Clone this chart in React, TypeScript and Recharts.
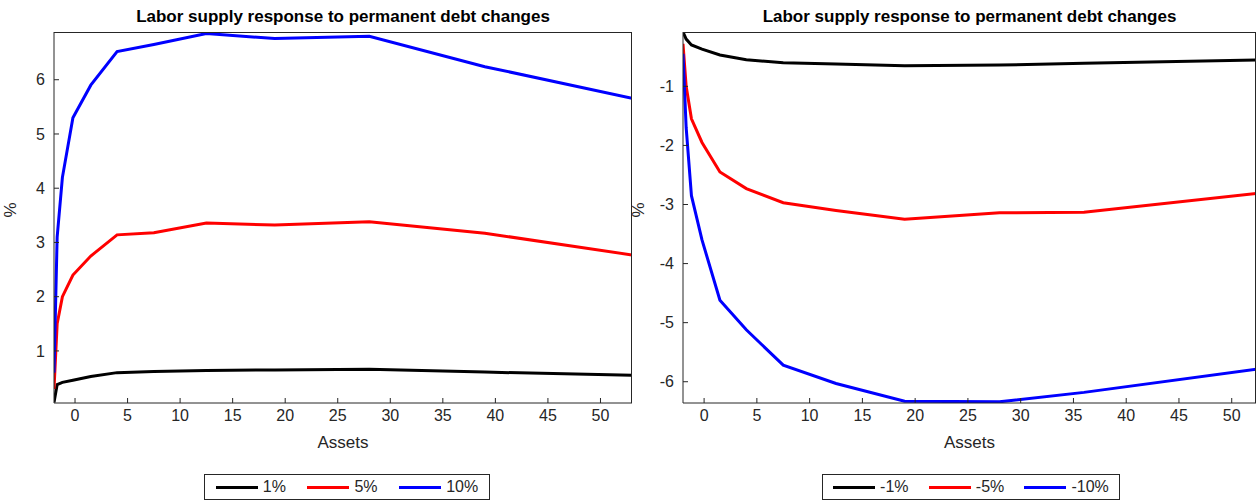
import React from 'react';
import { LineChart, Line, XAxis, YAxis } from 'recharts';

const assets = [-2, -1.7, -1.2, -0.2, 1.5, 4, 7.5, 12.5, 19, 28, 39, 53];
const assetsNeg = [-2, -1.7, -1.2, -0.2, 1.5, 4, 7.5, 12.5, 19, 28, 36, 53];
const up1 = [0.05, 0.38, 0.42, 0.46, 0.53, 0.6, 0.62, 0.64, 0.65, 0.66, 0.61, 0.55];
const up5 = [0.3, 1.5, 2.0, 2.4, 2.75, 3.14, 3.18, 3.36, 3.32, 3.38, 3.17, 2.77];
const up10 = [0.6, 3.1, 4.2, 5.3, 5.9, 6.52, 6.65, 6.85, 6.76, 6.8, 6.24, 5.66];
const down1 = [-0.08, -0.2, -0.3, -0.37, -0.47, -0.55, -0.6, -0.62, -0.65, -0.64, -0.61, -0.55];
const down5 = [-0.28, -1.0, -1.55, -1.95, -2.45, -2.73, -2.97, -3.1, -3.25, -3.14, -3.13, -2.8];
const down10 = [-0.45, -1.7, -2.85, -3.6, -4.62, -5.12, -5.72, -6.03, -6.33, -6.34, -6.18, -5.77];
const xTicks = [0, 5, 10, 15, 20, 25, 30, 35, 40, 45, 50];
const upTicks = [1, 2, 3, 4, 5, 6];
const downTicks = [-6, -5, -4, -3, -2, -1];
const upNames = ['1%', '5%', '10%'];
const downNames = ['-1%', '-5%', '-10%'];
const COLORS = ['#000000', '#ff0000', '#0000ff'];
const TITLE = 'Labor supply response to permanent debt changes';

const build = (xs: number[], a: number[], b: number[], c: number[]) =>
  xs.map((x, i) => ({ x, s0: a[i], s1: b[i], s2: c[i] }));

const FONT = '"Liberation Sans", Arial, sans-serif';
const tickStyle = { fill: '#262626', fontSize: 16, fontFamily: FONT };

function Panel({ left, width, yw, data, xDomain, yDomain, yTicks, names, legendLeft, legendWidth }: any) {
  const plotLeft = left + yw;
  const plotRight = left + width;
  return (
    <>
      <div style={{ position: 'absolute', left: plotLeft, width: plotRight - plotLeft, top: 7, textAlign: 'center', fontWeight: 'bold', fontSize: 17, fontFamily: FONT }}>{TITLE}</div>
      <div style={{ position: 'absolute', left: left, top: 0 }}>
        <LineChart width={width} height={501} data={data} margin={{ top: 32, right: 0, left: 0, bottom: 53 }}>
          <XAxis dataKey="x" type="number" domain={xDomain} ticks={xTicks} allowDataOverflow
            tick={tickStyle} tickSize={-5} tickMargin={12} stroke="#262626" height={45}
            label={{ value: 'Assets', position: 'insideBottom', offset: 0, fill: '#262626', fontSize: 17, fontFamily: FONT }} />
          <YAxis domain={yDomain} ticks={yTicks} allowDataOverflow tick={tickStyle} tickSize={-5} tickMargin={14} stroke="#262626" width={yw}
            label={{ value: '%', angle: -90, position: 'insideLeft', offset: 10, fill: '#262626', fontSize: 17, fontFamily: FONT }} />
          {[0, 1, 2].map((k) => (
            <Line key={k} dataKey={`s${k}`} stroke={COLORS[k]} strokeWidth={3} dot={false} isAnimationActive={false} type="linear" />
          ))}
        </LineChart>
      </div>
      <div style={{ position: 'absolute', left: plotLeft, top: 32, width: plotRight - plotLeft, height: 371, borderTop: '1px solid #262626', borderRight: '1px solid #262626', boxSizing: 'border-box', pointerEvents: 'none' }} />
      <div style={{ position: 'absolute', left: legendLeft, width: legendWidth, top: 474, height: 26, border: '1px solid #262626', background: '#fff', display: 'flex', alignItems: 'center', justifyContent: 'space-around', fontFamily: FONT, fontSize: 16, color: '#262626', boxSizing: 'border-box' }}>
        {names.map((n: string, k: number) => (
          <span key={n} style={{ display: 'flex', alignItems: 'center', gap: 5 }}>
            <span style={{ display: 'inline-block', width: 42, height: 3, background: COLORS[k] }} />
            {n}
          </span>
        ))}
      </div>
    </>
  );
}

export default function App() {
  return (
    <div style={{ position: 'absolute', left: 0, top: 0, width: 1256, height: 501, background: '#fff', overflow: 'hidden' }}>
      <Panel left={0} width={632} yw={54} data={build(assets, up1, up5, up10)} xDomain={[-2, 53]} yDomain={[0.04, 6.88]}
        yTicks={upTicks} names={upNames} legendLeft={204} legendWidth={286} />
      <Panel left={628} width={628} yw={55} data={build(assetsNeg, down1, down5, down10)} xDomain={[-2, 52.3]} yDomain={[-6.36, -0.08]}
        yTicks={downTicks} names={downNames} legendLeft={822} legendWidth={298} />
    </div>
  );
}
